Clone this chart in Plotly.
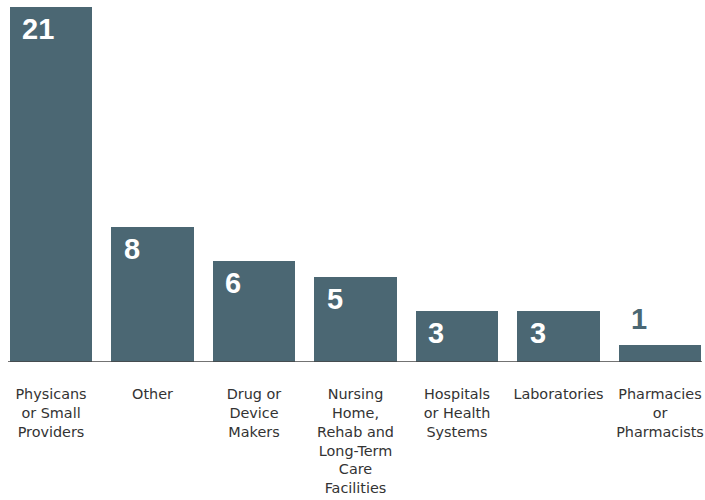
import plotly.graph_objects as go

categories = [
    "Physicans<br>or Small<br>Providers",
    "Other",
    "Drug or<br>Device<br>Makers",
    "Nursing<br>Home,<br>Rehab and<br>Long-Term<br>Care<br>Facilities",
    "Hospitals<br>or Health<br>Systems",
    "Laboratories",
    "Pharmacies<br>or<br>Pharmacists",
]
values = [21, 8, 6, 5, 3, 3, 1]

BAR = "#4b6773"
W, H = 705, 500
STEP = 101.5  # px per category
PLOT_TOP, PLOT_BOTTOM = 7, 362

fig = go.Figure()
xs = list(range(len(categories)))
fig.add_trace(go.Bar(
    x=xs, y=values, width=0.808, marker=dict(color=BAR, line=dict(width=0)),
    hoverinfo="skip", cliponaxis=False,
))

for x, v in zip(xs, values):
    if v >= 2:
        fig.add_annotation(x=x, y=v, xref="x", yref="y", text=f"<b>{v}</b>",
                           showarrow=False, xanchor="left", yanchor="top",
                           xshift=-31, yshift=-4,
                           font=dict(family="Liberation Sans, Arial", size=29, color="white"))
    else:
        fig.add_annotation(x=x, y=v, xref="x", yref="y", text=f"<b>{v}</b>",
                           showarrow=False, xanchor="left", yanchor="bottom",
                           xshift=-31, yshift=8,
                           font=dict(family="Liberation Sans, Arial", size=29, color=BAR))

fig.add_shape(type="line", xref="paper", yref="y", x0=8 / W, x1=702 / W, y0=0, y1=0,
              line=dict(color="#444444", width=1.5))

r0 = -51 / STEP
fig.update_layout(
    width=W, height=H,
    margin=dict(l=0, r=0, t=PLOT_TOP, b=H - PLOT_BOTTOM, autoexpand=False),
    paper_bgcolor="white", plot_bgcolor="white",
    showlegend=False,
    bargap=0,
    hovermode=False,
    xaxis=dict(range=[r0, r0 + W / STEP], tickmode="array", tickvals=xs, ticktext=categories,
               showgrid=False, zeroline=False, showline=False, ticks="",
               ticklabelstandoff=22, automargin=False, fixedrange=True,
               tickfont=dict(family="DejaVu Sans", size=14.4, color="#333333")),
    yaxis=dict(range=[0, max(values)], visible=False, showgrid=False, zeroline=False,
               fixedrange=True),
)

fig.write_html("out.html", config={"displayModeBar": False, "staticPlot": True},
               post_script="document.body.style.margin='0';document.body.style.overflow='hidden';")
